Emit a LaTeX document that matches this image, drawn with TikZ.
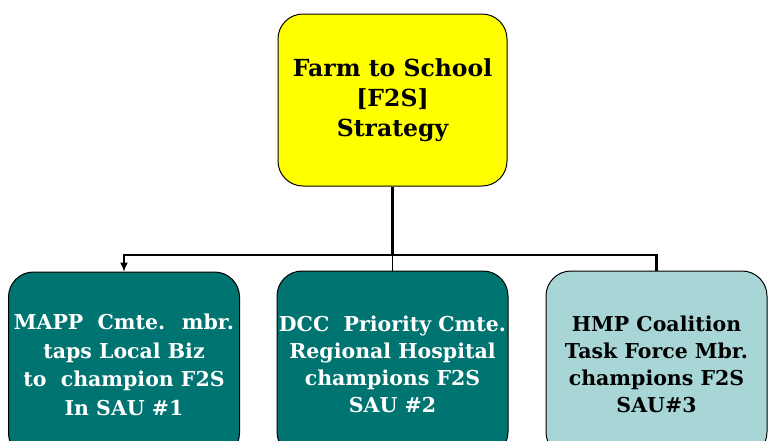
\documentclass[tikz,border=0pt]{standalone}
\usepackage{fontspec}
\setmainfont{DejaVu Serif}
\usepackage{tikz}
\usetikzlibrary{arrows, arrows.meta, positioning, calc}

\definecolor{boxteal}{RGB}{0,116,113}
\definecolor{boxlight}{RGB}{168,214,214}
\definecolor{boxyellow}{RGB}{255,255,0}

\tikzset{
	box/.style={draw, line width=1pt, rounded corners=25pt, align=center, font=\bfseries\fontsize{20.5}{27}\selectfont, inner sep=0pt},
	wire/.style={line width=2.5pt}
}

\begin{document}
\begin{tikzpicture}[x=1pt, y=1pt]
			\clip (0,0) rectangle (768,-440);
			\node[box, fill=boxyellow, minimum width=229pt, minimum height=172pt, font=\bfseries\fontsize{23.5}{30}\selectfont] (f2s) at (392.5,-100) {Farm to School\\{}[F2S]\\Strategy};
			\node[box, fill=boxteal, text=white, minimum width=231pt, minimum height=186pt, font=\bfseries\fontsize{20.5}{28.5}\selectfont] (mapp) at (124,-365) {MAPP~ Cmte.~ mbr.\\taps Local Biz\\to~ champion F2S\\In SAU \#1};
			\node[box, fill=boxteal, text=white, minimum width=231pt, minimum height=186pt] (dcc) at (392.5,-364) {DCC~ Priority Cmte.\\Regional Hospital\\champions F2S\\SAU \#2};
			\node[box, fill=boxlight, minimum width=221pt, minimum height=186pt] (hmp) at (656.5,-364) {HMP Coalition\\Task Force Mbr.\\champions F2S\\SAU\#3};
			\coordinate (bus) at (392.5,-255);
			\draw[wire] (bus) -- (bus -| mapp.north) -- ($(mapp.north)+(0,9)$);
			\draw[wire] (bus) -- (bus -| hmp.north) -- (hmp.north);
			\draw[wire] (f2s.south) -- (bus);
			\draw[line width=1.2pt] (bus) -- (dcc.north);
			\draw[line width=1.2pt, -{Latex[length=9pt,width=8pt]}] ($(mapp.north)+(0,10)$) -- (mapp.north);
		\end{tikzpicture}
\end{document}
